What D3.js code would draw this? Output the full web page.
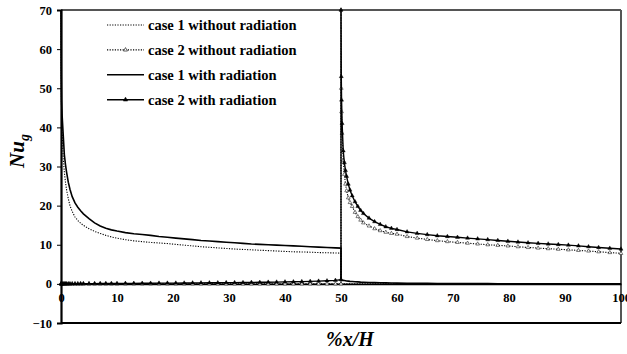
<!DOCTYPE html>
<html>
<head>
<meta charset="utf-8">
<script src="https://cdn.jsdelivr.net/npm/d3@7"></script>
<style>
  html, body { margin: 0; padding: 0; background: #fff; }
  svg { display: block; }
  text { font-family: "Liberation Serif", "Times New Roman", serif; }
</style>
</head>
<body>
<svg id="chart" width="627" height="354"></svg>
<script>
// Mesh nodes along the wall, first half (0–50 %) and second half (50–100 %)
const meshA = [0, 0.05, 0.1, 0.2, 0.4, 0.6, 0.8, 1, 1.3, 1.6,
  2, 2.5, 3, 3.5, 4, 5, 6, 7, 8, 9,
  10, 11.5, 13, 14.5, 16, 17.5, 19, 20.5, 22, 23.5,
  25, 26.5, 28, 29.5, 31, 32.5, 34, 35.5, 37, 38.5,
  40, 41.5, 43, 44.5, 46, 47.5, 49, 50];
const meshB = [50, 50.05, 50.1, 50.2, 50.4, 50.6, 50.8, 51, 51.3, 51.6,
  52, 52.5, 53, 53.5, 54, 55, 56, 57, 58, 59,
  60, 61.8, 63.6, 65.4, 67.2, 69, 70.8, 72.6, 74.4, 76.2,
  78, 79.8, 81.6, 83.4, 85.2, 87, 88.8, 90.6, 92.4, 94.2,
  96, 98, 100];

// Local Nusselt number, case 1 without radiation
const case1NoRadA = [70, 50, 44, 39, 32, 28.5, 26, 24, 21.8, 20,
  18.5, 17.1, 16.2, 15.5, 14.95, 14.1, 13.4, 12.9, 12.4, 12.0,
  11.7, 11.3, 11.0, 10.8, 10.6, 10.45, 10.3, 10.1, 9.9, 9.7,
  9.5, 9.35, 9.2, 9.05, 8.9, 8.8, 8.7, 8.6, 8.5, 8.4,
  8.3, 8.2, 8.15, 8.1, 8.0, 7.95, 7.9, 7.85];
const case1NoRadB = [0, 0, 0, 0, 0, 0, 0, 0, 0, 0,
  0, 0, 0, 0, 0, 0, 0, 0, 0, 0,
  0, 0, 0, 0, 0, 0, 0, 0, 0, 0,
  0, 0, 0, 0, 0, 0, 0, 0, 0, 0,
  0, 0, 0];

// Case 2 without radiation
const case2NoRadA = [0, 0, 0, 0, 0, 0, 0, 0, 0, 0,
  0, 0, 0, 0, 0, 0, 0, 0, 0, 0,
  0, 0, 0, 0, 0, 0, 0, 0, 0, 0,
  0, 0, 0, 0, 0, 0, 0, 0, 0, 0,
  0, 0, 0, 0, 0, 0, 0, 0];
const case2NoRadB = [70, 50, 44, 38.5, 31.5, 28, 25.5, 23.8, 22, 20.8,
  19.8, 18.3, 17.2, 16.3, 15.6, 14.8, 14.1, 13.6, 13.2, 12.9,
  12.7, 12.1, 11.7, 11.35, 11.05, 10.8, 10.6, 10.4, 10.2, 10.0,
  9.85, 9.7, 9.5, 9.3, 9.15, 9.0, 8.85, 8.7, 8.55, 8.4,
  8.2, 8.0, 7.8];

// Case 1 with radiation
const case1RadA = [70, 53, 47, 43, 38, 33, 30.5, 28.5, 26, 24.2,
  22.3, 20.7, 19.6, 18.7, 17.9, 16.7, 15.6, 14.8, 14.2, 13.8,
  13.5, 13.1, 12.8, 12.6, 12.4, 12.1, 11.9, 11.7, 11.5, 11.3,
  11.1, 10.95, 10.8, 10.65, 10.5, 10.35, 10.2, 10.1, 10.0, 9.9,
  9.8, 9.7, 9.6, 9.5, 9.4, 9.3, 9.2, 9.15];
const case1RadB = [1.1, 1.05, 1.0, 0.95, 0.9, 0.85, 0.8, 0.75, 0.7, 0.65,
  0.6, 0.55, 0.5, 0.45, 0.42, 0.37, 0.32, 0.28, 0.25, 0.22,
  0.2, 0.17, 0.15, 0.13, 0.11, 0.1, 0.09, 0.08, 0.07, 0.06,
  0.05, 0.05, 0.04, 0.04, 0.03, 0.03, 0.03, 0.02, 0.02, 0.02,
  0.02, 0.01, 0.01];

// Case 2 with radiation
const case2RadA = [0, 0, 0, 0, 0, 0, 0, 0, 0, 0,
  0.02, 0.03, 0.04, 0.05, 0.05, 0.06, 0.07, 0.08, 0.09, 0.1,
  0.1, 0.12, 0.13, 0.15, 0.16, 0.18, 0.19, 0.2, 0.22, 0.24,
  0.25, 0.27, 0.29, 0.31, 0.33, 0.35, 0.37, 0.4, 0.43, 0.46,
  0.5, 0.54, 0.58, 0.63, 0.7, 0.78, 0.9, 1.1];
const case2RadB = [70, 53, 47, 41, 34, 31, 29, 27.5, 25.5, 24,
  22.5, 21, 19.8, 18.8, 18.0, 16.8, 15.9, 15.2, 14.6, 14.2,
  13.9, 13.3, 12.9, 12.6, 12.3, 12.1, 11.9, 11.7, 11.5, 11.3,
  11.1, 10.9, 10.7, 10.5, 10.35, 10.2, 10.05, 9.9, 9.7, 9.5,
  9.3, 9.1, 8.9];

const seriesNames = ["case 1 without radiation", "case 2 without radiation",
                     "case 1 with radiation", "case 2 with radiation"];
const xTicks = [0, 10, 20, 30, 40, 50, 60, 70, 80, 90, 100];
const yTicks = [-10, 0, 10, 20, 30, 40, 50, 60, 70];

const svg = d3.select("#chart");
const x = d3.scaleLinear().domain([0, 100]).range([61, 621]);
const y = d3.scaleLinear().domain([-10, 70]).range([323, 10]);

const join = (a, b) => meshA.map((m, i) => [m, a[i]]).concat(meshB.map((m, i) => [m, b[i]]));
const series = [
  { name: seriesNames[0], pts: join(case1NoRadA, case1NoRadB), dash: "1.2,1.4", w: 1.1, marker: null },
  { name: seriesNames[1], pts: join(case2NoRadA, case2NoRadB), dash: "1.2,1.4", w: 1.1, marker: "open" },
  { name: seriesNames[2], pts: join(case1RadA, case1RadB), dash: null, w: 1.6, marker: null },
  { name: seriesNames[3], pts: join(case2RadA, case2RadB), dash: null, w: 1.4, marker: "filled" }
];

// frame: grey top/right, black left/bottom
svg.append("line").attr("x1", x(0)).attr("x2", x(100)).attr("y1", y(70)).attr("y2", y(70))
  .attr("stroke", "#555").attr("stroke-width", 2);
svg.append("line").attr("x1", x(100)).attr("x2", x(100)).attr("y1", y(70)).attr("y2", y(-10))
  .attr("stroke", "#555").attr("stroke-width", 2);
svg.append("line").attr("x1", x(0)).attr("x2", x(100)).attr("y1", y(-10)).attr("y2", y(-10))
  .attr("stroke", "#000").attr("stroke-width", 2);

// y axis
const yAxis = svg.append("g").attr("transform", `translate(${x(0)},0)`)
  .call(d3.axisLeft(y).tickValues(yTicks).tickSize(4).tickPadding(5).tickFormat(d3.format("d")));
yAxis.select(".domain").attr("stroke", "#000").attr("stroke-width", 2.2);
yAxis.selectAll(".tick line").attr("stroke", "#000");
yAxis.selectAll(".tick text").attr("font-family", "Liberation Serif, serif")
  .attr("font-size", 12.5).attr("font-weight", "bold").attr("fill", "#000");

// x axis at Nu = 0
const xAxis = svg.append("g").attr("transform", `translate(0,${y(0)})`)
  .call(d3.axisBottom(x).tickValues(xTicks).tickSize(0).tickPadding(9).tickFormat(d3.format("d")));
xAxis.select(".domain").attr("stroke", "#000").attr("stroke-width", 1.6);
xAxis.selectAll(".tick text").attr("font-family", "Liberation Serif, serif")
  .attr("font-size", 12.5).attr("font-weight", "bold").attr("fill", "#000");

// curves
const line = d3.line().x(d => x(d[0])).y(d => y(d[1]));
const tri = d3.symbol().type(d3.symbolTriangle);
series.forEach(s => {
  svg.append("path").datum(s.pts).attr("d", line).attr("fill", "none")
    .attr("stroke", "#000").attr("stroke-width", s.w)
    .attr("stroke-dasharray", s.dash);
  if (s.marker) {
    svg.append("g").selectAll("path").data(s.pts).join("path")
      .attr("transform", d => `translate(${x(d[0])},${y(d[1])})`)
      .attr("d", tri.size(s.marker === "filled" ? 7 : 6))
      .attr("fill", s.marker === "filled" ? "#000" : "#fff")
      .attr("stroke", "#000").attr("stroke-width", s.marker === "filled" ? 0.4 : 0.5);
  }
});

// legend
const legend = svg.append("g");
series.forEach((s, i) => {
  const yy = 25 + i * 24.9;
  legend.append("line").attr("x1", 107).attr("x2", 144).attr("y1", yy).attr("y2", yy)
    .attr("stroke", "#000").attr("stroke-width", s.w).attr("stroke-dasharray", s.dash);
  if (s.marker) {
    legend.append("path").attr("transform", `translate(125.5,${yy})`)
      .attr("d", tri.size(s.marker === "filled" ? 8 : 7))
      .attr("fill", s.marker === "filled" ? "#000" : "#fff")
      .attr("stroke", "#000").attr("stroke-width", 0.6);
  }
  legend.append("text").attr("x", 148).attr("y", yy + 4.8)
    .attr("font-size", 14.5).attr("font-weight", "bold").text(s.name);
});

// axis titles
const yt = svg.append("text").attr("transform", "translate(24,151) rotate(-90)")
  .attr("text-anchor", "middle").attr("font-size", 21).attr("font-weight", "bold")
  .attr("font-style", "italic");
yt.append("tspan").text("Nu");
yt.append("tspan").attr("font-size", 14).attr("dy", 5).text("g");

svg.append("text").attr("x", 350).attr("y", 346).attr("text-anchor", "middle")
  .attr("font-size", 20).attr("font-weight", "bold").attr("font-style", "italic").text("%x/H");
</script>
</body>
</html>
